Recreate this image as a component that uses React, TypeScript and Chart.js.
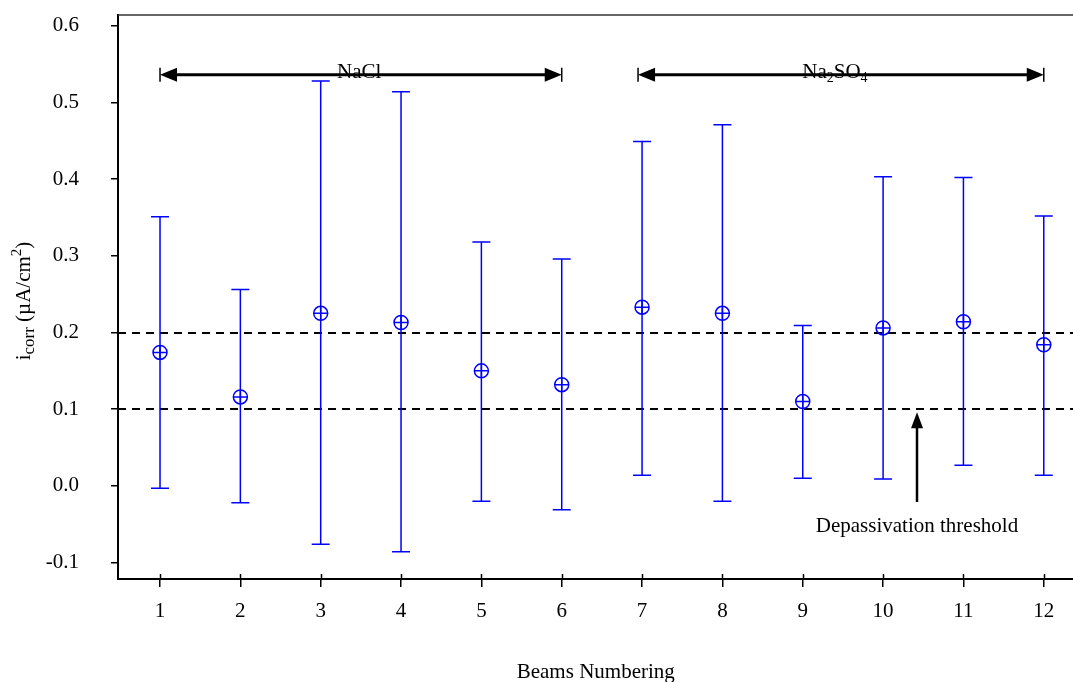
import React, { useEffect, useRef } from 'react';
import { Chart, registerables } from 'chart.js';

Chart.register(...registerables);

// ---- data ----
const beams = [1, 2, 3, 4, 5, 6, 7, 8, 9, 10, 11, 12];
const meanValues = [0.174, 0.116, 0.225, 0.213, 0.150, 0.132, 0.233, 0.225, 0.110, 0.206, 0.214, 0.184];
const upperValues = [0.351, 0.256, 0.528, 0.514, 0.318, 0.296, 0.449, 0.471, 0.209, 0.403, 0.402, 0.352];
const lowerValues = [-0.003, -0.022, -0.076, -0.086, -0.020, -0.031, 0.014, -0.020, 0.010, 0.009, 0.027, 0.014];
const yTickValues = [-0.1, 0.0, 0.1, 0.2, 0.3, 0.4, 0.5, 0.6];
const thresholdValues = [0.1, 0.2];
const groupStarts = [1, 6.95];
const groupEnds = [6, 12];
const groupLabelCenters = [3.48, 9.4];
const groupArrowValue = 0.536;
const thresholdArrowX = 10.42;
const thresholdArrowFrom = -0.021;
const thresholdArrowTo = 0.096;
const thresholdLabelY = -0.06;

const FONT = "'Liberation Serif', 'Times New Roman', Times, serif";
const BLUE = '#0000ff';
const W = 1073;
const H = 682;

type Part = { t: string; size: number; dy: number };

function drawParts(ctx: CanvasRenderingContext2D, parts: Part[], cx: number, baseY: number) {
  let total = 0;
  const widths = parts.map((p) => {
    ctx.font = `${p.size}px ${FONT}`;
    const w = ctx.measureText(p.t).width;
    total += w;
    return w;
  });
  let x = cx - total / 2;
  parts.forEach((p, i) => {
    ctx.font = `${p.size}px ${FONT}`;
    ctx.fillText(p.t, x, baseY + p.dy);
    x += widths[i];
  });
}

const overlayPlugin = {
  id: 'overlay',
  beforeDatasetsDraw(chart: any) {
    const { ctx, chartArea, scales } = chart;
    const x = scales.x;
    const y = scales.y;
    ctx.save();
    // dashed threshold lines
    ctx.strokeStyle = '#000';
    ctx.lineWidth = 2;
    ctx.setLineDash([8, 6]);
    thresholdValues.forEach((v) => {
      const py = Math.round(y.getPixelForValue(v));
      ctx.beginPath();
      ctx.moveTo(chartArea.left, py);
      ctx.lineTo(chartArea.right, py);
      ctx.stroke();
    });
    ctx.setLineDash([]);
    // error bars
    ctx.strokeStyle = BLUE;
    ctx.lineWidth = 1.5;
    beams.forEach((b, i) => {
      const px = x.getPixelForValue(b);
      const pu = y.getPixelForValue(upperValues[i]);
      const pl = y.getPixelForValue(lowerValues[i]);
      ctx.beginPath();
      ctx.moveTo(px, pu);
      ctx.lineTo(px, pl);
      ctx.moveTo(px - 9, pu);
      ctx.lineTo(px + 9, pu);
      ctx.moveTo(px - 9, pl);
      ctx.lineTo(px + 9, pl);
      ctx.stroke();
    });
    ctx.restore();
  },
  afterDraw(chart: any) {
    const { ctx, chartArea, scales } = chart;
    const x = scales.x;
    const y = scales.y;
    ctx.save();
    // top border
    ctx.strokeStyle = '#333';
    ctx.lineWidth = 1.5;
    ctx.beginPath();
    ctx.moveTo(chartArea.left, chartArea.top);
    ctx.lineTo(chartArea.right, chartArea.top);
    ctx.stroke();

    // x ticks crossing into the plot
    ctx.strokeStyle = '#000';
    ctx.lineWidth = 1.5;
    beams.forEach((b) => {
      const px = Math.round(x.getPixelForValue(b)) + 0.5;
      ctx.beginPath();
      ctx.moveTo(px, chartArea.bottom - 5);
      ctx.lineTo(px, chartArea.bottom);
      ctx.stroke();
    });

    // group arrows
    ctx.fillStyle = '#000';
    const ay = y.getPixelForValue(groupArrowValue);
    groupStarts.forEach((s, i) => {
      const x1 = x.getPixelForValue(s);
      const x2 = x.getPixelForValue(groupEnds[i]);
      ctx.lineWidth = 3;
      ctx.beginPath();
      ctx.moveTo(x1 + 12, ay);
      ctx.lineTo(x2 - 12, ay);
      ctx.stroke();
      ctx.beginPath();
      ctx.moveTo(x1, ay);
      ctx.lineTo(x1 + 17, ay - 7);
      ctx.lineTo(x1 + 17, ay + 7);
      ctx.closePath();
      ctx.fill();
      ctx.beginPath();
      ctx.moveTo(x2, ay);
      ctx.lineTo(x2 - 17, ay - 7);
      ctx.lineTo(x2 - 17, ay + 7);
      ctx.closePath();
      ctx.fill();
      ctx.lineWidth = 1.5;
      ctx.beginPath();
      ctx.moveTo(x1, ay - 7);
      ctx.lineTo(x1, ay + 7);
      ctx.moveTo(x2, ay - 7);
      ctx.lineTo(x2, ay + 7);
      ctx.stroke();
    });

    ctx.textBaseline = 'alphabetic';
    ctx.textAlign = 'left';
    drawParts(ctx, [{ t: 'NaCl', size: 21, dy: 0 }], x.getPixelForValue(groupLabelCenters[0]), ay + 3);
    drawParts(
      ctx,
      [
        { t: 'Na', size: 21, dy: 0 },
        { t: '2', size: 14, dy: 4 },
        { t: 'SO', size: 21, dy: 0 },
        { t: '4', size: 14, dy: 4 },
      ],
      x.getPixelForValue(groupLabelCenters[1]),
      ay + 3
    );

    // depassivation arrow
    const tx = Math.round(x.getPixelForValue(thresholdArrowX));
    const tyFrom = y.getPixelForValue(thresholdArrowFrom);
    const tyTo = y.getPixelForValue(thresholdArrowTo);
    ctx.lineWidth = 2.5;
    ctx.beginPath();
    ctx.moveTo(tx, tyFrom);
    ctx.lineTo(tx, tyTo + 10);
    ctx.stroke();
    ctx.beginPath();
    ctx.moveTo(tx, tyTo);
    ctx.lineTo(tx - 6, tyTo + 16);
    ctx.lineTo(tx + 6, tyTo + 16);
    ctx.closePath();
    ctx.fill();
    drawParts(ctx, [{ t: 'Depassivation threshold', size: 21, dy: 0 }], tx, y.getPixelForValue(thresholdLabelY));

    // y axis title
    ctx.translate(30, (chartArea.top + chartArea.bottom) / 2 + 4);
    ctx.rotate(-Math.PI / 2);
    drawParts(
      ctx,
      [
        { t: 'i', size: 21, dy: 0 },
        { t: 'corr', size: 17, dy: 4 },
        { t: ' (\u00b5A/cm', size: 21, dy: 0 },
        { t: '2', size: 15, dy: -9 },
        { t: ')', size: 21, dy: 0 },
      ],
      0,
      0
    );
    ctx.restore();
  },
};

export default function App() {
  const ref = useRef<HTMLCanvasElement | null>(null);

  useEffect(() => {
    if (!ref.current) return;
    const points = beams.map((b, i) => ({ x: b, y: meanValues[i] }));
    const chart = new Chart(ref.current, {
      type: 'scatter',
      data: {
        datasets: [
          {
            data: points,
            pointStyle: 'circle',
            pointRadius: 7,
            pointHoverRadius: 7,
            borderColor: BLUE,
            backgroundColor: 'rgba(0,0,0,0)',
            borderWidth: 1.5,
          },
          {
            data: points,
            pointStyle: 'cross',
            pointRadius: 7,
            pointHoverRadius: 7,
            borderColor: BLUE,
            backgroundColor: BLUE,
            borderWidth: 1.5,
          },
        ],
      },
      options: {
        animation: false,
        responsive: false,
        maintainAspectRatio: false,
        devicePixelRatio: 1,
        events: [],
        layout: { padding: { top: 15, left: 0, right: 0, bottom: 0 } },
        plugins: { legend: { display: false }, tooltip: { enabled: false } },
        scales: {
          x: {
            type: 'linear',
            min: 0.477,
            max: 12.37,
            afterBuildTicks: (s: any) => {
              s.ticks = beams.map((v) => ({ value: v }));
            },
            afterFit: (s: any) => {
              s.height = 103;
              s.paddingLeft = 0;
              s.paddingRight = 0;
            },
            grid: { drawOnChartArea: false, drawTicks: true, tickLength: 8, color: '#000', lineWidth: 1.5 },
            border: { display: true, color: '#000', width: 2 },
            ticks: {
              padding: 12,
              color: '#000',
              autoSkip: false,
              maxRotation: 0,
              font: { family: FONT, size: 21 },
              callback: (v: any) => String(v),
            },
            title: {
              display: true,
              text: 'Beams Numbering',
              color: '#000',
              font: { family: FONT, size: 21, lineHeight: 1 },
              padding: { top: 0, bottom: -1 },
            },
          },
          y: {
            type: 'linear',
            min: -0.1214,
            max: 0.614,
            afterBuildTicks: (s: any) => {
              s.ticks = yTickValues.map((v) => ({ value: v }));
            },
            afterFit: (s: any) => {
              s.width = 118;
              s.paddingTop = 0;
              s.paddingBottom = 0;
            },
            grid: { drawOnChartArea: false, drawTicks: true, tickLength: 7, color: '#000', lineWidth: 1.5 },
            border: { display: true, color: '#000', width: 2 },
            ticks: {
              padding: 32,
              color: '#000',
              autoSkip: false,
              font: { family: FONT, size: 21 },
              callback: (v: any) => Number(v).toFixed(1),
            },
          },
        },
      },
      plugins: [overlayPlugin],
    });
    // make the plot area reach the right edge of the visible frame
    const extra = W - chart.chartArea.right;
    if (Math.abs(extra) > 0.5) {
      chart.resize(Math.round(W + extra), H);
    }
    return () => chart.destroy();
  }, []);

  return (
    <div style={{ position: 'absolute', left: 0, top: 0, width: W, height: H, overflow: 'hidden', background: '#fff' }}>
      <canvas ref={ref} width={W} height={H} style={{ display: 'block' }} />
    </div>
  );
}
